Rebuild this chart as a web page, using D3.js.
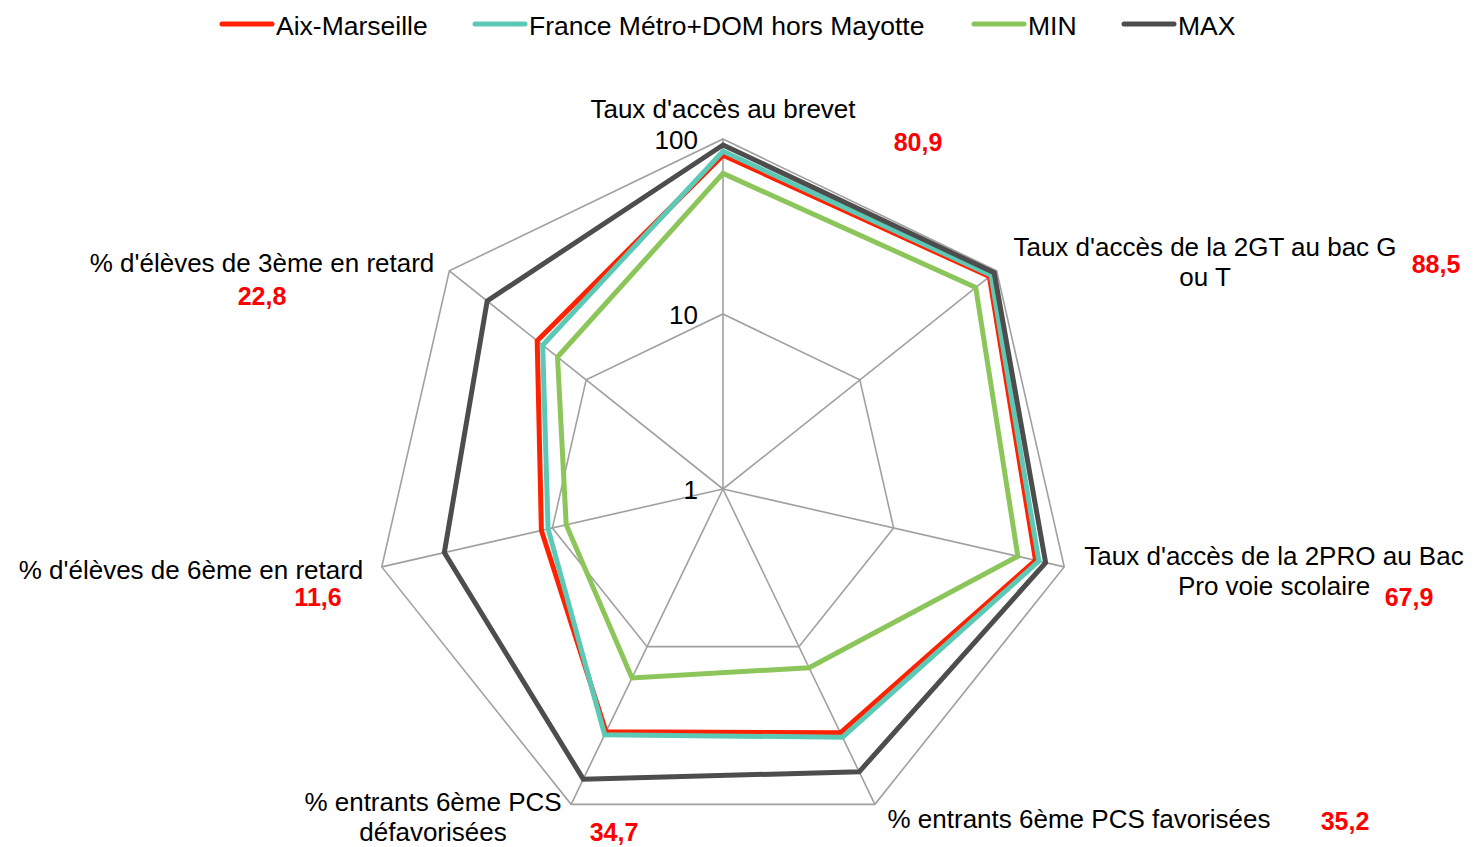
<!DOCTYPE html>
<html>
<head>
<meta charset="utf-8">
<script src="https://cdn.jsdelivr.net/npm/d3@7"></script>
<style>
  body { margin: 0; background: #fff; }
  svg { font-family: "Liberation Sans", Arial, sans-serif; }
</style>
</head>
<body>
<svg id="chart" width="1475" height="847"></svg>
<script>
const axes = [
  "Taux d'accès au brevet",
  "Taux d'accès de la 2GT au bac G ou T",
  "Taux d'accès de la 2PRO au Bac Pro voie scolaire",
  "% entrants 6ème PCS favorisées",
  "% entrants 6ème PCS défavorisées",
  "% d'élèves de 6ème en retard",
  "% d'élèves de 3ème en retard",
];
const aixMarseille = [80.9, 88.5, 67.9, 35.2, 34.7, 11.6, 22.8];
const france = [85, 91, 71, 37.5, 36.2, 10.6, 20.8];
const minValues = [63.6, 70.3, 53.5, 13.6, 15.8, 8.3, 16.2];
const maxValues = [92.4, 96, 77.8, 62.2, 69.2, 43, 52.9];
const tickValues = [1, 10, 100];
const valueLabels = ["80,9", "88,5", "67,9", "35,2", "34,7", "11,6", "22,8"];

const series = [
  { name: "Aix-Marseille", values: aixMarseille, color: "#ff2200" },
  { name: "France Métro+DOM hors Mayotte", values: france, color: "#5cc8b6" },
  { name: "MIN", values: minValues, color: "#8cc65a" },
  { name: "MAX", values: maxValues, color: "#4d4d4d" },
];

const svg = d3.select("#chart");
const cx = 723, cy = 489, R = 350;
const r = d3.scaleLog().domain([1, 100]).range([0, R]);
const angle = d3.scaleLinear().domain([0, axes.length]).range([0, 2 * Math.PI]);

function pt(i, v) {
  const a = angle(i);
  return [cx + r(v) * Math.sin(a), cy - r(v) * Math.cos(a)];
}

const grid = svg.append("g");
// rings
tickValues.filter((t) => t > 1).forEach((t) => {
  grid.append("path")
    .attr("d", d3.line()(axes.map((_, i) => pt(i, t))) + "Z")
    .attr("fill", "none")
    .attr("stroke", "#a0a0a0")
    .attr("stroke-width", 1.6);
});
// spokes
axes.forEach((_, i) => {
  const [x, y] = pt(i, 100);
  grid.append("line")
    .attr("x1", cx).attr("y1", cy).attr("x2", x).attr("y2", y)
    .attr("stroke", "#a0a0a0")
    .attr("stroke-width", 1.6);
});
// tick labels
tickValues.forEach((t) => {
  grid.append("text")
    .attr("x", cx - 25)
    .attr("y", cy - r(t) + 10)
    .attr("text-anchor", "end")
    .attr("font-size", 26)
    .text(t);
});

// series
const line = d3.line();
series.forEach((s) => {
  svg.append("path")
    .attr("d", line(s.values.map((v, i) => pt(i, v))) + "Z")
    .attr("fill", "none")
    .attr("stroke", s.color)
    .attr("stroke-width", 5)
    .attr("stroke-linejoin", "miter");
});

// axis labels
const labelPos = [
  { lines: ["Taux d'accès au brevet"], x: 723, y: 118 },
  { lines: ["Taux d'accès de la 2GT au bac G", "ou T"], x: 1205, y: 256 },
  { lines: ["Taux d'accès de la 2PRO au Bac", "Pro voie scolaire"], x: 1274, y: 565 },
  { lines: ["% entrants 6ème PCS favorisées"], x: 1079, y: 828 },
  { lines: ["% entrants 6ème PCS", "défavorisées"], x: 433, y: 811 },
  { lines: ["% d'élèves de 6ème en retard"], x: 191, y: 579 },
  { lines: ["% d'élèves de 3ème en retard"], x: 262, y: 272 },
];
const valuePos = [[918, 151], [1436, 273], [1409, 606], [1345, 830], [614, 841], [318, 606], [262, 305]];

labelPos.forEach((l) => {
  const t = svg.append("text")
    .attr("x", l.x).attr("y", l.y)
    .attr("text-anchor", "middle")
    .attr("font-size", 26)
    .attr("fill", "#000");
  l.lines.forEach((s, j) => {
    t.append("tspan").attr("x", l.x).attr("dy", j === 0 ? 0 : 30).text(s);
  });
});
valueLabels.forEach((v, i) => {
  svg.append("text")
    .attr("x", valuePos[i][0]).attr("y", valuePos[i][1])
    .attr("text-anchor", "middle")
    .attr("font-size", 25)
    .attr("font-weight", "bold")
    .attr("fill", "#ff0000")
    .text(v);
});

// legend
const legendX = [220, 473, 972, 1122];
const legend = svg.append("g");
series.forEach((s, i) => {
  const g = legend.append("g").attr("transform", `translate(${legendX[i]},24)`);
  g.append("line")
    .attr("x1", 2).attr("x2", 52).attr("y1", 0).attr("y2", 0)
    .attr("stroke", s.color)
    .attr("stroke-width", 5)
    .attr("stroke-linecap", "round");
  g.append("text")
    .attr("x", 56).attr("y", 11)
    .attr("font-size", 26.5)
    .text(s.name);
});
</script>
</body>
</html>
